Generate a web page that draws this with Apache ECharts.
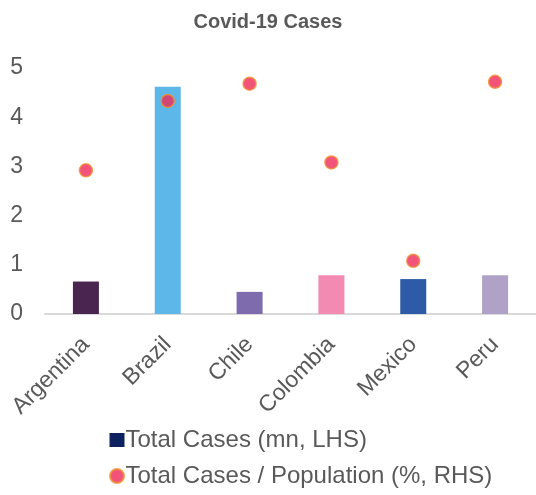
<!DOCTYPE html>
<html>
<head>
<meta charset="utf-8">
<script src="https://cdn.jsdelivr.net/npm/echarts@6/dist/echarts.min.js"></script>
<style>
  * { margin: 0; padding: 0; }
  html, body { width: 536px; height: 495px; background: #fff; }
  #chart { width: 536px; height: 495px; }
</style>
</head>
<body>
<div id="chart"></div>
<script>
var countries = ['Argentina', 'Brazil', 'Chile', 'Colombia', 'Mexico', 'Peru'];
var totalCases = [0.66, 4.62, 0.45, 0.79, 0.71, 0.79];
var casesPerPop = [2.92, 4.33, 4.68, 3.08, 1.08, 4.72];
var barColors = ['#4A2550', '#5DB7E8', '#7E6BAD', '#F28AB2', '#2E5BA8', '#B0A2C6'];
var yTicks = [0, 1, 2, 3, 4, 5];

var chart = echarts.init(document.getElementById('chart'));
var font = 'Liberation Sans, Arial, sans-serif';

chart.setOption({
  animation: false,
  textStyle: { fontFamily: font },
  title: {
    text: 'Covid-19 Cases',
    left: 'center',
    top: 7,
    textStyle: { fontFamily: font, fontSize: 20, fontWeight: 'bold', color: '#595959' }
  },
  legend: {
    orient: 'vertical',
    left: 104,
    top: 423,
    itemGap: 12,
    itemWidth: 15,
    itemHeight: 14,
    textStyle: { fontFamily: font, fontSize: 24, color: '#595959', padding: [0, 0, 0, -4] },
    data: [
      { name: 'Total Cases (mn, LHS)', icon: 'rect', itemStyle: { color: '#0E2260' } },
      { name: 'Total Cases / Population (%, RHS)', icon: 'circle' }
    ]
  },
  grid: { left: 45, right: 0, top: 68, bottom: 181 },
  xAxis: {
    type: 'category',
    data: countries,
    axisLine: { lineStyle: { color: '#D9D9D9', width: 2 } },
    axisTick: { show: false },
    axisLabel: { rotate: 45, interval: 0, fontSize: 23, color: '#595959', margin: 27 }
  },
  yAxis: [
    {
      type: 'value',
      min: yTicks[0],
      max: yTicks[yTicks.length - 1],
      interval: 1,
      splitLine: { show: false },
      axisLine: { show: false },
      axisTick: { show: false },
      axisLabel: { fontSize: 23, color: '#595959', margin: 22 }
    },
    {
      type: 'value',
      min: 0,
      max: 5,
      interval: 1,
      show: false
    }
  ],
  series: [
    {
      name: 'Total Cases (mn, LHS)',
      type: 'bar',
      barWidth: 26,
      data: totalCases.map(function (v, i) {
        return { value: v, itemStyle: { color: barColors[i] } };
      })
    },
    {
      name: 'Total Cases / Population (%, RHS)',
      type: 'scatter',
      yAxisIndex: 1,
      symbolSize: 13,
      itemStyle: { color: '#EF2958', borderColor: '#F3902F', borderWidth: 1.5 },
      data: casesPerPop
    }
  ]
});
</script>
</body>
</html>
